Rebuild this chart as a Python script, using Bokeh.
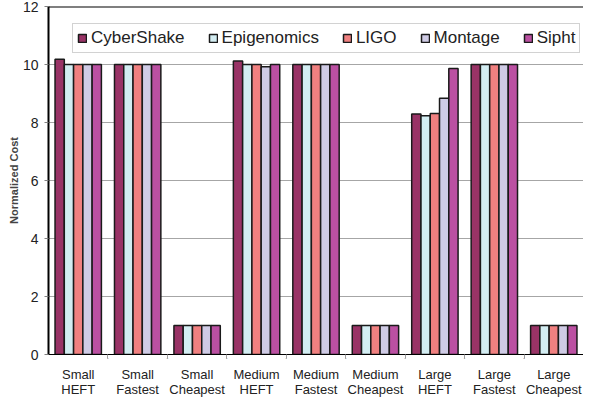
from bokeh.plotting import figure
from bokeh.models import (ColumnDataSource, FactorRange, Range1d, CategoricalAxis,
                          FixedTicker, Legend, LegendItem, Span, CategoricalScale)
from bokeh.transform import dodge
from bokeh.embed import file_html
from bokeh.resources import INLINE

categories = ["Small\nHEFT", "Small\nFastest", "Small\nCheapest",
              "Medium\nHEFT", "Medium\nFastest", "Medium\nCheapest",
              "Large\nHEFT", "Large\nFastest", "Large\nCheapest"]
series = ["CyberShake", "Epigenomics", "LIGO", "Montage", "Sipht"]
cybershake = [10.18, 10.0, 1.0, 10.12, 10.0, 1.0, 8.29, 10.0, 1.0]
epigenomics = [10.0, 10.0, 1.0, 10.0, 10.0, 1.0, 8.23, 10.0, 1.0]
ligo = [10.0, 10.0, 1.0, 10.0, 10.0, 1.0, 8.31, 10.0, 1.0]
montage = [10.0, 10.0, 1.0, 9.92, 10.0, 1.0, 8.84, 10.0, 1.0]
sipht = [10.0, 10.0, 1.0, 10.0, 10.0, 1.0, 9.86, 10.0, 1.0]
colors = ["#993366", "#D3EDF2", "#F08080", "#CFCBE5", "#BB50A2"]
y_ticks = [0, 2, 4, 6, 8, 10, 12]

FONT = "Liberation Sans"
data = dict(cat=categories, CyberShake=cybershake, Epigenomics=epigenomics,
            LIGO=ligo, Montage=montage, Sipht=sipht)
src = ColumnDataSource(data)

p = figure(width=583, height=399, x_range=FactorRange(*categories), y_range=Range1d(0, 12),
           output_backend="svg", toolbar_location=None, x_axis_location=None,
           min_border_left=48, min_border_right=0, min_border_top=6, min_border_bottom=0)
p.outline_line_color = None
p.xgrid.grid_line_color = None
p.ygrid.grid_line_color = "#A6A6A6"
p.ygrid.ticker = FixedTicker(ticks=y_ticks)

bw = 0.156
renderers = []
for i, (s, c) in enumerate(zip(series, colors)):
    r = p.vbar(x=dodge("cat", (i - 2) * bw, range=p.x_range), top=s, width=bw, source=src,
               fill_color=c, line_color="#1a1a1a", line_width=1.5)
    renderers.append(r)

# y axis
ya = p.yaxis[0]
ya.ticker = FixedTicker(ticks=y_ticks)
ya.axis_line_color = "black"
ya.axis_line_width = 2
ya.major_tick_line_color = "#808080"
ya.major_tick_out = 4
ya.major_tick_in = 0
ya.minor_tick_line_color = None
ya.major_label_text_font = FONT
ya.major_label_text_font_size = "14px"
ya.major_label_text_color = "#222222"
ya.major_label_standoff = 6
ya.axis_label = "Normalized Cost"
ya.axis_label_text_font = FONT
ya.axis_label_text_font_style = "bold"
ya.axis_label_text_font_size = "11px"
ya.axis_label_standoff = 0

# top border
p.add_layout(Span(location=12, dimension="width", line_color="black", line_width=2))

# boundary tick axis: a second factor range whose factor centres sit on the category boundaries
bounds = ["b%d" % k for k in range(len(categories) + 1)]
p.extra_x_ranges = {"bounds": FactorRange(factors=bounds, range_padding=-0.5,
                                          range_padding_units="absolute")}
p.extra_x_scales = {"bounds": CategoricalScale()}
ta = CategoricalAxis(x_range_name="bounds")
ta.major_label_overrides = {b: " " for b in bounds}
ta.major_label_text_font_size = "1px"
ta.major_label_standoff = 0
ta.axis_label_standoff = 0
ta.axis_line_color = "black"
ta.axis_line_width = 1
ta.major_tick_line_color = "#A0A0A0"
ta.major_tick_out = 4
ta.major_tick_in = 0
ta.minor_tick_line_color = None
p.add_layout(ta, "below")

ca = CategoricalAxis()
ca.axis_line_color = None
ca.major_tick_line_color = None
ca.minor_tick_line_color = None
ca.major_tick_out = 0
ca.major_tick_in = 0
ca.axis_label_standoff = 0
ca.major_label_text_font = FONT
ca.major_label_text_font_size = "13px"
ca.major_label_text_color = "#222222"
ca.major_label_text_line_height = 1.0
ca.major_label_standoff = 4
p.add_layout(ca, "below")

legend = Legend(items=[LegendItem(label=s, renderers=[r]) for s, r in zip(series, renderers)],
                orientation="horizontal", location=(24, 301))
legend.label_text_font = FONT
legend.label_text_font_size = "17px"
legend.label_text_color = "#222222"
legend.glyph_width = 10
legend.glyph_height = 10
legend.label_standoff = 4
legend.spacing = 23
legend.padding = 4
legend.margin = 0
legend.border_line_color = "#A6A6A6"
legend.border_line_width = 1
legend.background_fill_alpha = 1
p.add_layout(legend, "center")

open("out.html", "w").write(file_html(p, INLINE))
